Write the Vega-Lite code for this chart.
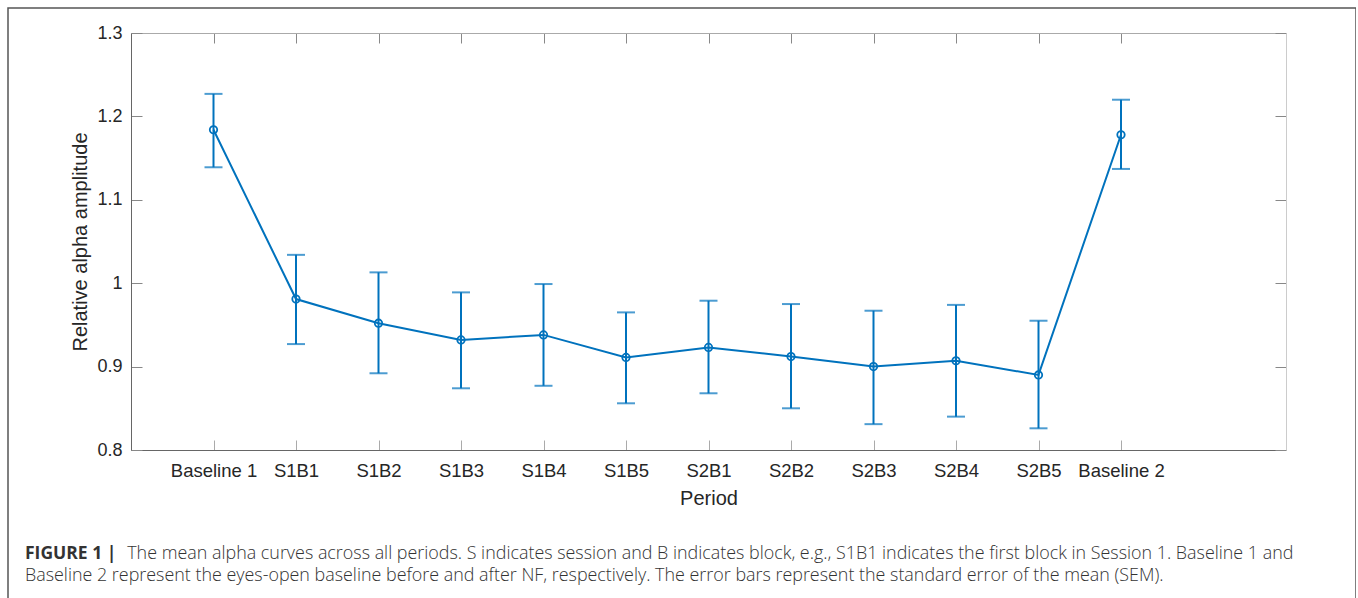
{
  "$schema": "https://vega.github.io/schema/vega-lite/v6.json",
  "autosize": {"type": "none"},
  "width": 1348,
  "height": 600,
  "padding": {"left": 8, "top": 8, "right": 0, "bottom": 0},
  "background": "white",
  "config": {
    "view": {"stroke": "#555555", "strokeWidth": 1.5},
    "font": "Liberation Sans"
  },
  "title": {
    "text": "FIGURE 1 |",
    "subtitle": [
      "\u200b\u00a0\u00a0\u00a0\u00a0\u00a0\u00a0\u00a0\u00a0\u00a0\u00a0\u00a0\u00a0\u00a0\u00a0\u00a0\u00a0\u00a0\u00a0\u00a0\u00a0\u00a0\u00a0The mean alpha curves across all periods. S indicates session and B indicates block, e.g., S1B1 indicates the first block in Session 1. Baseline 1 and",
      "Baseline 2 represent the eyes-open baseline before and after NF, respectively. The error bars represent the standard error of the mean (SEM)."
    ],
    "orient": "bottom",
    "anchor": "start",
    "frame": "group",
    "offset": -63,
    "dx": 17,
    "font": "Open Sans",
    "fontSize": 17.5,
    "fontWeight": "bold",
    "color": "#333333",
    "subtitleFont": "Open Sans",
    "subtitleFontSize": 17.9,
    "subtitleFontWeight": 300,
    "subtitleColor": "#333333",
    "subtitleLineHeight": 22.5,
    "subtitlePadding": -18
  },
  "data": {
    "values": [
      {"period": "Baseline 1", "mean": 1.184, "lo": 1.139, "hi": 1.227},
      {"period": "S1B1", "mean": 0.981, "lo": 0.927, "hi": 1.034},
      {"period": "S1B2", "mean": 0.952, "lo": 0.892, "hi": 1.013},
      {"period": "S1B3", "mean": 0.932, "lo": 0.874, "hi": 0.989},
      {"period": "S1B4", "mean": 0.938, "lo": 0.877, "hi": 0.999},
      {"period": "S1B5", "mean": 0.911, "lo": 0.856, "hi": 0.965},
      {"period": "S2B1", "mean": 0.923, "lo": 0.868, "hi": 0.979},
      {"period": "S2B2", "mean": 0.912, "lo": 0.850, "hi": 0.975},
      {"period": "S2B3", "mean": 0.900, "lo": 0.831, "hi": 0.967},
      {"period": "S2B4", "mean": 0.907, "lo": 0.840, "hi": 0.974},
      {"period": "S2B5", "mean": 0.890, "lo": 0.826, "hi": 0.955},
      {"period": "Baseline 2", "mean": 1.178, "lo": 1.137, "hi": 1.220}
    ]
  },
  "layer": [
    {
      "mark": {"type": "line", "color": "#0072BD", "strokeWidth": 2},
      "encoding": {
        "x": {
          "field": "period", "type": "nominal", "sort": null,
          "scale": {
            "type": "point", "padding": 1, "range": [123, 1278],
            "domain": ["Baseline 1", "S1B1", "S1B2", "S1B3", "S1B4", "S1B5", "S2B1", "S2B2", "S2B3", "S2B4", "S2B5", "Baseline 2", " "]
          },
          "axis": {
            "orient": "bottom", "offset": -158, "title": "Period",
            "values": ["Baseline 1", "S1B1", "S1B2", "S1B3", "S1B4", "S1B5", "S2B1", "S2B2", "S2B3", "S2B4", "S2B5", "Baseline 2"],
            "labelAngle": 0, "labelFont": "Liberation Sans", "labelFontSize": 18.5, "labelColor": "#262626",
            "titleFont": "Liberation Sans", "titleFontSize": 20, "titleFontWeight": "normal", "titleColor": "#262626",
            "domainColor": "#666666", "domainWidth": 1,
            "tickColor": "#aaaaaa", "tickSize": -10, "tickWidth": 1,
            "labelPadding": 21, "titlePadding": 9, "grid": false
          }
        },
        "y": {
          "field": "mean", "type": "quantitative",
          "scale": {"domain": [0.8, 1.3], "range": [442, 25], "zero": false, "nice": false},
          "axis": {
            "orient": "left", "offset": -123, "title": "Relative alpha amplitude",
            "values": [0.8, 0.9, 1.0, 1.1, 1.2, 1.3], "format": "~g",
            "labelFont": "Liberation Sans", "labelFontSize": 18, "labelColor": "#262626",
            "titleFont": "Liberation Sans", "titleFontSize": 20, "titleFontWeight": "normal", "titleColor": "#262626",
            "domainColor": "#666666", "domainWidth": 1,
            "tickColor": "#888888", "tickSize": -11, "tickWidth": 1,
            "labelPadding": 20, "titlePadding": 6, "grid": false
          }
        }
      }
    },
    {
      "mark": {"type": "rule", "color": "#0072BD", "strokeWidth": 2},
      "encoding": {
        "x": {
          "field": "period", "type": "nominal", "sort": null,
          "axis": {
            "orient": "top", "offset": -25, "title": null, "labels": false,
            "values": ["Baseline 1", "S1B1", "S1B2", "S1B3", "S1B4", "S1B5", "S2B1", "S2B2", "S2B3", "S2B4", "S2B5", "Baseline 2"],
            "domainColor": "#aaaaaa", "domainWidth": 1,
            "tickColor": "#888888", "tickSize": -10, "tickWidth": 1, "grid": false
          }
        },
        "y": {
          "field": "lo", "type": "quantitative",
          "axis": {
            "orient": "right", "offset": -70, "title": null, "labels": false,
            "values": [0.8, 0.9, 1.0, 1.1, 1.2, 1.3],
            "domainColor": "#cccccc", "domainWidth": 1,
            "tickColor": "#888888", "tickSize": -11, "tickWidth": 1, "grid": false
          }
        },
        "y2": {"field": "hi"}
      }
    },
    {
      "mark": {"type": "tick", "orient": "horizontal", "color": "#0072BD", "size": 18, "thickness": 2},
      "encoding": {
        "x": {"field": "period", "type": "nominal", "sort": null, "axis": null},
        "y": {"field": "lo", "type": "quantitative", "axis": null}
      }
    },
    {
      "mark": {"type": "tick", "orient": "horizontal", "color": "#0072BD", "size": 18, "thickness": 2},
      "encoding": {
        "x": {"field": "period", "type": "nominal", "sort": null, "axis": null},
        "y": {"field": "hi", "type": "quantitative", "axis": null}
      }
    },
    {
      "mark": {"type": "point", "shape": "circle", "filled": false, "color": "#0072BD", "size": 55, "strokeWidth": 1.8, "opacity": 1},
      "encoding": {
        "x": {"field": "period", "type": "nominal", "sort": null, "axis": null},
        "y": {"field": "mean", "type": "quantitative", "axis": null}
      }
    }
  ],
  "resolve": {"axis": {"x": "independent", "y": "independent"}}
}
